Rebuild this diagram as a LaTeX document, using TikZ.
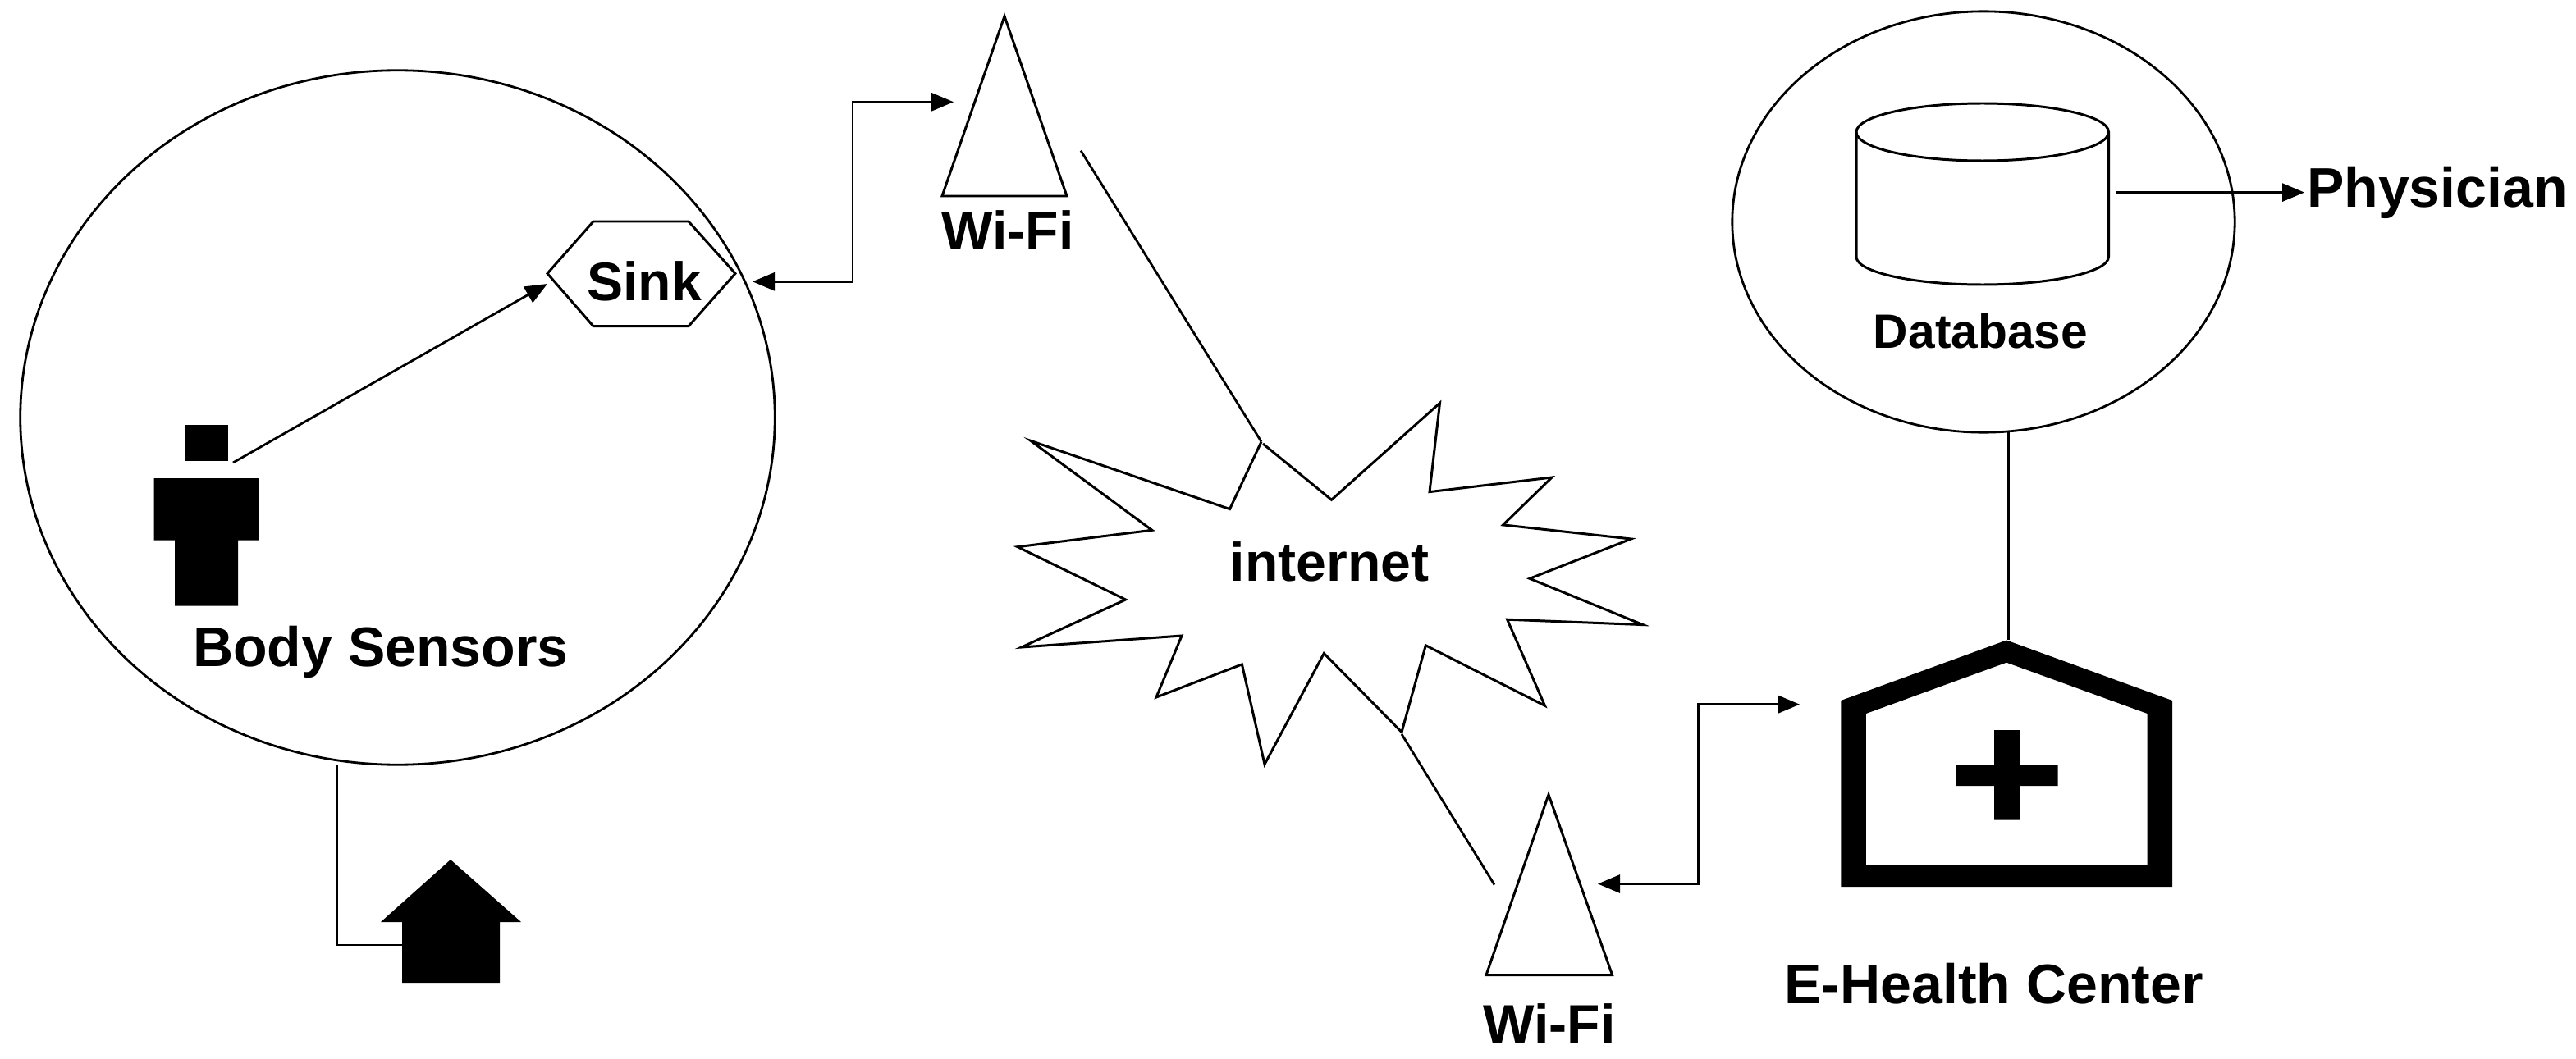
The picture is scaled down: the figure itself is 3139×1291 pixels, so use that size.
\documentclass[tikz,border=0pt]{standalone}
\usepackage{fontspec}
\setmainfont{Liberation Sans}
\usetikzlibrary{shapes.geometric,arrows.meta}
\tikzset{
  wire/.style={draw=black,line width=0.8pt,line join=miter},
  outline/.style={draw=black,line width=0.85pt,line join=miter,fill=white},
  zone/.style={ellipse,draw=black,line width=0.8pt,inner sep=0pt,outer sep=0pt},
  solid shape/.style={fill=black,draw=none},
  flow/.style={wire,-{Triangle[length=0.27cm,width=0.22cm]}},
  flowboth/.style={wire,{Triangle[length=0.27cm,width=0.22cm]}-{Triangle[length=0.27cm,width=0.22cm]}},
  lbl/.style={anchor=base,inner sep=0pt,outer sep=0pt,font=\fontsize{18.8}{22}\selectfont\bfseries},
  widelbl/.style={lbl,font=\fontsize{19.35}{22}\selectfont\bfseries},
  smalllbl/.style={lbl,font=\fontsize{16.7}{20}\selectfont\bfseries}
}
\begin{document}
\begin{tikzpicture}[x=0.01cm,y=-0.01cm]
\fill[white] (0,0) rectangle (3139,1291);
\useasboundingbox (0,0) rectangle (3139,1291);

% zones
\node[zone,minimum width=9.19cm,minimum height=8.46cm] (bodyzone) at (484.5,509) {};
\node[zone,minimum width=6.12cm,minimum height=5.13cm] (dbzone) at (2417,270.5) {};

% sink
\draw[outline,fill=none] (667,333.4) -- (723,270) -- (839,270) -- (896,333.4) -- (839,397.7) -- (723,397.7) -- cycle;
\node[lbl] (sink) at (785,366) {Sink};
\coordinate (sinkW) at (667,346);
\coordinate (sinkE) at (917,343.3);

% person
\fill[solid shape] (226,518) rectangle (278,561.5);
\fill[solid shape] (187.5,583) -- (315,583) -- (315,658.6) -- (290,658.6) -- (290,738.5) -- (213,738.5) -- (213,658.6) -- (187.5,658.6) -- cycle;
\coordinate (personNE) at (284,564);
\node[widelbl] (bodysensors) at (464,812) {Body Sensors};

% home
\fill[solid shape] (549,1048) -- (635,1124) -- (609,1124) -- (609,1198) -- (490,1198) -- (490,1124) -- (464,1124) -- cycle;
\coordinate (zoneS) at (411,932);
\coordinate (homeW) at (490,1152);

% Wi-Fi 1
\draw[outline,fill=none] (1224,19.8) -- (1300,239) -- (1148,239) -- cycle;
\node[lbl] (wifia) at (1228,304.6) {Wi-Fi};
\coordinate (wifiaW) at (1162,124.3);
\coordinate (wifiaE) at (1317,183.6);

% internet
\draw[outline] (1539,541) -- (1622.5,609.3) -- (1754.5,491.3) -- (1742,599.6) -- (1891,582) -- (1831.5,639.9)
  -- (1987.6,657) -- (1864,705.3) -- (2002,761.6) -- (1836.6,755.2) -- (1882.5,860.3) -- (1737.3,786.8)
  -- (1708,892.5) -- (1613.3,796.5) -- (1541,931.7) -- (1513.4,809.9) -- (1409,850) -- (1440,775)
  -- (1244.8,789) -- (1371.6,731) -- (1240,666.7) -- (1403.8,646.3) -- (1256,537.4) -- (1498.5,620.6)
  -- (1537,538.5);
\node[lbl] (internet) at (1620,708.5) {internet};
\coordinate (netN) at (1537,538.5);
\coordinate (netS) at (1708,895);

% Wi-Fi 2
\draw[outline,fill=none] (1887,968.7) -- (1964.6,1188.6) -- (1811,1188.6) -- cycle;
\node[lbl] (wifib) at (1888,1271.5) {Wi-Fi};
\coordinate (wifibW) at (1821,1078.6);
\coordinate (wifibE) at (1947,1077.5);

% database
\draw[outline,fill=none] (2262,161) -- (2262,313) arc[start angle=180,end angle=0,x radius=153.75,y radius=34] -- (2569.5,161);
\draw[outline,fill=none] (2415.75,161) ellipse[x radius=153.75,y radius=35];
\node[smalllbl] (database) at (2413.5,424) {Database};
\coordinate (dbE) at (2578,234.6);
\coordinate (dbzoneS) at (2447.4,527);
\node[widelbl,anchor=base west] (physician) at (2811,252.5) {Physician};
\coordinate (physW) at (2808,234.6);

% hospital
\fill[solid shape,even odd rule] (2445,780.5) -- (2647,854) -- (2647,1081) -- (2243.3,1081) -- (2243.3,854) -- cycle
  (2445,807.7) -- (2616.7,870) -- (2616.7,1054.7) -- (2273.8,1054.7) -- (2273.8,870) -- cycle;
\fill[solid shape] (2430,890) -- (2461,890) -- (2461,932) -- (2507.7,932) -- (2507.7,958) -- (2461,958) -- (2461,999.5) -- (2430,999.5) -- (2430,958) -- (2383.5,958) -- (2383.5,932) -- (2430,932) -- cycle;
\node[widelbl] (ehealth) at (2429.5,1223.5) {E-Health Center};
\coordinate (hospN) at (2447.4,780);
\coordinate (hospW) at (2193,858.7);

% connectors
\draw[flow] (personNE) -- (sinkW);
\draw[wire] (zoneS) |- (homeW);
\draw[flowboth] (sinkE) -- (1039,343.3) |- (wifiaW);
\draw[wire] (wifiaE) -- (netN);
\draw[wire] (netS) -- (wifibW);
\draw[flowboth] (wifibE) -- (2069.7,1077.5) |- (hospW);
\draw[wire] (dbzoneS) -- (hospN);
\draw[flow] (dbE) -- (physW);
\end{tikzpicture}
\end{document}
